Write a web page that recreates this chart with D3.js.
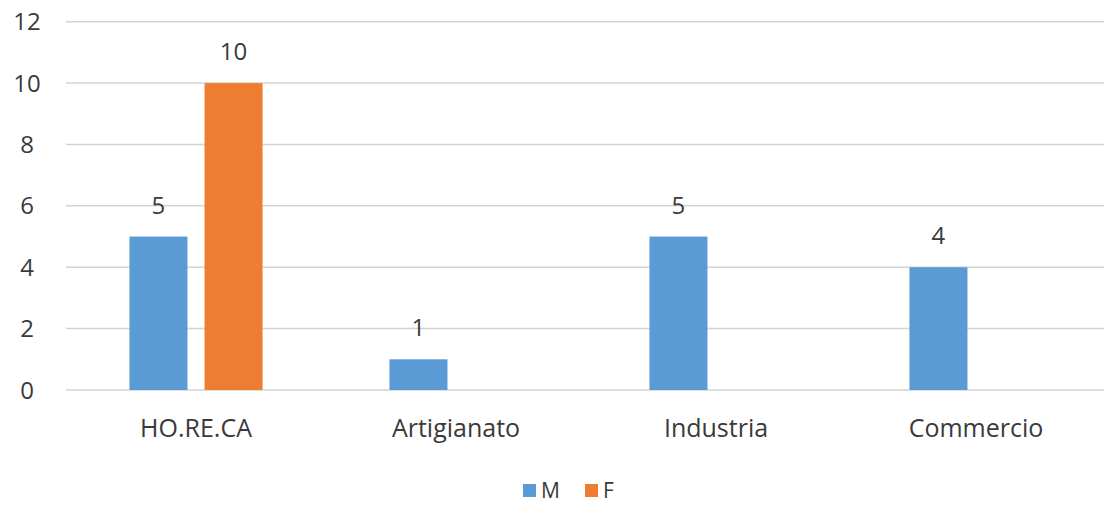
<!DOCTYPE html>
<html>
<head>
<meta charset="utf-8">
<script src="https://cdn.jsdelivr.net/npm/d3@7"></script>
<style>
  body { margin: 0; background: #fff; }
  svg text { font-family: "Open Sans", sans-serif; fill: #3a3a3a; }
</style>
</head>
<body>
<div id="chart"></div>
<script>
// data
const categories = ["HO.RE.CA", "Artigianato", "Industria", "Commercio"];
const series = ["M", "F"];
const valuesM = [5, 1, 5, 4];
const valuesF = [10, 0, 0, 0];
const yTicks = [0, 2, 4, 6, 8, 10, 12];
const colors = { M: "#5b9bd5", F: "#ed7d31" };

const width = 1104, height = 505;
const margin = { top: 22, right: -2, bottom: 115, left: 66 };

const rows = categories.map((c, i) => ({ cat: c, M: valuesM[i], F: valuesF[i] }));

const svg = d3.select("#chart").append("svg")
    .attr("width", width)
    .attr("height", height);

const x0 = d3.scaleBand()
    .domain(categories)
    .range([margin.left, width - margin.right])
    .paddingInner(0.488)
    .paddingOuter(0.244);

const x1 = d3.scaleBand()
    .domain(series)
    .range([0, x0.bandwidth()])
    .paddingInner(0.227);

const y = d3.scaleLinear()
    .domain([0, 12])
    .range([390, 21.7]);

// gridlines
svg.append("g")
    .selectAll("line").data(yTicks).enter().append("line")
    .attr("x1", margin.left)
    .attr("x2", width)
    .attr("y1", d => y(d))
    .attr("y2", d => y(d))
    .attr("stroke", "#d4d4d4")
    .attr("stroke-width", 1.5);

// y labels
svg.append("g")
    .selectAll("text").data(yTicks).enter().append("text")
    .attr("x", 27)
    .attr("y", d => y(d))
    .attr("dy", "0.36em")
    .attr("text-anchor", "middle")
    .style("font-size", "24px")
    .text(d => d);

// bars
const groups = svg.append("g")
    .selectAll("g").data(rows).enter().append("g")
    .attr("transform", d => `translate(${x0(d.cat)},0)`);

const cells = groups.selectAll("g")
    .data(d => series.map(s => ({ key: s, value: d[s] })).filter(e => e.value > 0))
    .enter().append("g");

cells.append("rect")
    .attr("x", d => x1(d.key))
    .attr("y", d => y(d.value))
    .attr("width", x1.bandwidth())
    .attr("height", d => y(0) - y(d.value))
    .attr("fill", d => colors[d.key]);

cells.append("text")
    .attr("x", d => x1(d.key) + x1.bandwidth() / 2)
    .attr("y", d => y(d.value) - 23)
    .attr("text-anchor", "middle")
    .style("font-size", "24px")
    .text(d => d.value);

// category labels
svg.append("g")
    .selectAll("text").data(categories).enter().append("text")
    .attr("x", d => x0(d) + x0.bandwidth() / 2)
    .attr("y", 437)
    .attr("text-anchor", "middle")
    .style("font-size", "25px")
    .text(d => d);

// legend
const legendX = [523, 585];
const legend = svg.append("g")
    .selectAll("g").data(series).enter().append("g")
    .attr("transform", (d, i) => `translate(${legendX[i]},484)`);

legend.append("rect")
    .attr("width", 13)
    .attr("height", 13)
    .attr("fill", d => colors[d]);

legend.append("text")
    .attr("x", 18)
    .attr("y", 13.5)
    .style("font-size", "21px")
    .text(d => d);
</script>
</body>
</html>
